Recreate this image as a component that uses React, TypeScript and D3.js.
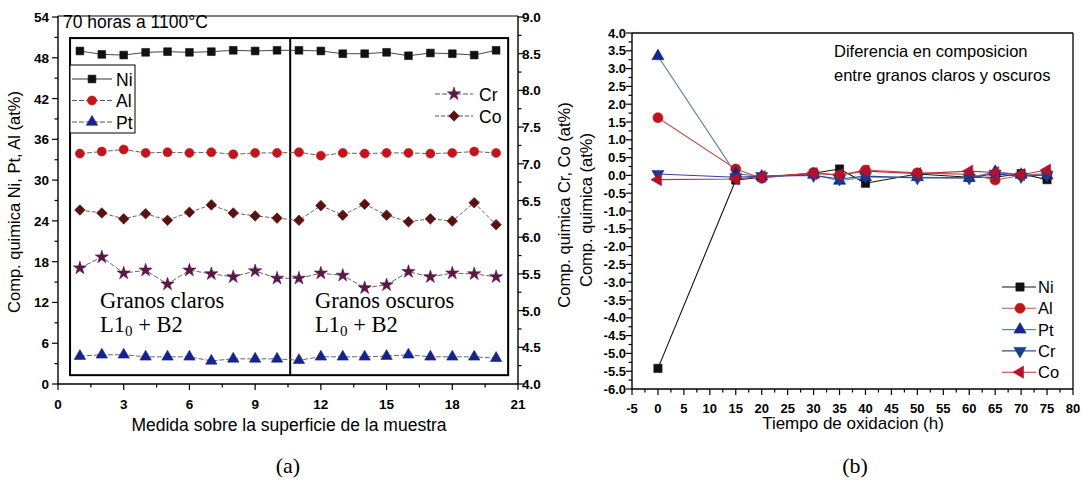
import React from "react";
import * as d3 from "d3";

// ---- Panel (a): composition along the sample surface ----
const positions = [1, 2, 3, 4, 5, 6, 7, 8, 9, 10, 11, 12, 13, 14, 15, 16, 17, 18, 19, 20];
const niA = [49.0, 48.5, 48.4, 48.8, 48.9, 48.8, 48.9, 49.1, 49.0, 49.1, 49.1, 49.0, 48.6, 48.6, 48.8, 48.3, 48.7, 48.6, 48.4, 49.1];
const alA = [33.9, 34.2, 34.5, 34.0, 34.1, 34.0, 34.1, 33.8, 34.0, 34.0, 34.1, 33.6, 34.0, 33.9, 34.0, 34.0, 33.9, 34.0, 34.2, 34.0];
const ptA = [4.1, 4.3, 4.3, 4.0, 4.0, 4.0, 3.4, 3.7, 3.7, 3.7, 3.5, 4.0, 4.0, 4.0, 4.1, 4.3, 4.0, 4.0, 4.0, 3.8];
const crA = [5.58, 5.73, 5.51, 5.55, 5.36, 5.55, 5.5, 5.46, 5.54, 5.44, 5.44, 5.51, 5.48, 5.31, 5.35, 5.53, 5.46, 5.51, 5.5, 5.46];
const coA = [6.37, 6.33, 6.25, 6.32, 6.23, 6.34, 6.44, 6.33, 6.29, 6.26, 6.23, 6.43, 6.3, 6.45, 6.3, 6.21, 6.25, 6.22, 6.47, 6.17];
const xTicksA = [0, 3, 6, 9, 12, 15, 18, 21];
const yTicksA = [0, 6, 12, 18, 24, 30, 36, 42, 48, 54];
const y2TicksA = [4.0, 4.5, 5.0, 5.5, 6.0, 6.5, 7.0, 7.5, 8.0, 8.5, 9.0];

// ---- Panel (b): difference between light and dark grains over time ----
const times = [0, 15, 20, 30, 35, 40, 50, 60, 65, 70, 75];
const niB = [-5.42, -0.13, -0.05, 0.06, 0.18, -0.22, 0.04, -0.05, -0.05, 0.05, -0.12];
const alB = [1.62, 0.18, -0.08, 0.08, 0.0, 0.15, 0.07, 0.03, -0.13, 0.0, 0.05];
const ptB = [3.35, 0.05, -0.03, 0.02, -0.15, -0.05, -0.05, -0.07, 0.1, 0.02, 0.0];
const crB = [0.04, -0.05, -0.02, 0.0, -0.1, -0.02, -0.07, -0.07, 0.05, -0.03, 0.02];
const coB = [-0.12, -0.1, -0.03, 0.05, 0.02, 0.12, 0.05, 0.12, 0.08, 0.02, 0.15];
const xTicksB = [-5, 0, 5, 10, 15, 20, 25, 30, 35, 40, 45, 50, 55, 60, 65, 70, 75, 80];
const yTicksB = d3.range(-6, 4.001, 0.5);

const SANS = "'Liberation Sans', Arial, sans-serif";
const SERIF = "'Liberation Serif', 'Times New Roman', serif";

type Shape = "square" | "circle" | "up" | "down" | "left" | "star" | "diamond";

function markerPath(shape: Shape, size: number): string {
  const map: Record<Shape, d3.SymbolType> = {
    square: d3.symbolSquare,
    circle: d3.symbolCircle,
    up: d3.symbolTriangle,
    down: d3.symbolTriangle,
    left: d3.symbolTriangle,
    star: d3.symbolStar,
    diamond: d3.symbolSquare,
  };
  return d3.symbol(map[shape], size)() || "";
}

function rotation(shape: Shape): number {
  if (shape === "down") return 180;
  if (shape === "left") return -90;
  if (shape === "diamond") return 45;
  return 0;
}

function Marker({ x, y, shape, size, fill }: { x: number; y: number; shape: Shape; size: number; fill: string }) {
  return (
    <path
      d={markerPath(shape, size)}
      transform={`translate(${x},${y}) rotate(${rotation(shape)})`}
      fill={fill}
      stroke={fill}
      strokeWidth={0.6}
    />
  );
}

// Panel (a) scales
const xA = d3.scaleLinear().domain([0, 21]).range([58, 518]);
const yA = d3.scaleLinear().domain([0, 54]).range([384, 17]);
const y2A = d3.scaleLinear().domain([4, 9]).range([384, 17]);

// Panel (b) scales
const xB = d3.scaleLinear().domain([-5, 80]).range([632, 1073]);
const yB = d3.scaleLinear().domain([-6, 4]).range([389, 33]);

type SeriesA = { name: string; values: number[]; axis: "left" | "right"; shape: Shape; color: string; size: number; line: string; dash?: string };

const seriesA: SeriesA[] = [
  { name: "Ni", values: niA, axis: "left", shape: "square", color: "#111111", size: 60, line: "#333", dash: undefined },
  { name: "Al", values: alA, axis: "left", shape: "circle", color: "#c4141b", size: 64, line: "#555", dash: "5,2" },
  { name: "Pt", values: ptA, axis: "left", shape: "up", color: "#17238c", size: 56, line: "#555", dash: "5,2" },
  { name: "Cr", values: crA, axis: "right", shape: "star", color: "#5a1848", size: 54, line: "#555", dash: "5,2" },
  { name: "Co", values: coA, axis: "right", shape: "diamond", color: "#5a1210", size: 56, line: "#555", dash: "4,2" },
];

type SeriesB = { name: string; values: number[]; shape: Shape; color: string; line: string; size: number };

const seriesB: SeriesB[] = [
  { name: "Ni", values: niB, shape: "square", color: "#111111", line: "#111111", size: 68 },
  { name: "Al", values: alB, shape: "circle", color: "#c0141c", line: "#b5584a", size: 80 },
  { name: "Pt", values: ptB, shape: "up", color: "#15278a", line: "#5f86b0", size: 64 },
  { name: "Cr", values: crB, shape: "down", color: "#1b3c86", line: "#2b4aa0", size: 64 },
  { name: "Co", values: coB, shape: "left", color: "#b3122a", line: "#c2303f", size: 64 },
];

function PanelA() {
  const minorX = d3.range(0, 21.001, 1.5);
  const minorY = d3.range(0, 54.001, 3);
  const minorY2 = d3.range(4, 9.001, 0.25);
  return (
    <g>
      {/* axes frame */}
      <line x1={xA(0)} x2={xA(21)} y1={yA(0)} y2={yA(0)} stroke="#000" strokeWidth={1.4} />
      <line x1={xA(0)} x2={xA(0)} y1={yA(0)} y2={16} stroke="#000" strokeWidth={1.4} />
      <line x1={xA(21)} x2={xA(21)} y1={yA(0)} y2={16} stroke="#000" strokeWidth={1.4} />
      <line x1={xA(0)} x2={xA(21)} y1={16} y2={16} stroke="#000" strokeWidth={1.2} />

      {minorX.map((t) => (
        <line key={"mx" + t} x1={xA(t)} x2={xA(t)} y1={yA(0)} y2={yA(0) + (t % 3 === 0 ? 6 : 3.5)} stroke="#000" strokeWidth={1.2} />
      ))}
      {minorY.map((t) => (
        <line key={"my" + t} x1={xA(0)} x2={xA(0) - (t % 6 === 0 ? 6 : 3.5)} y1={yA(t)} y2={yA(t)} stroke="#000" strokeWidth={1.2} />
      ))}
      {minorY2.map((t) => (
        <line key={"my2" + t} x1={xA(21)} x2={xA(21) + (Math.abs((t * 2) % 1) < 1e-6 ? 6 : 3.5)} y1={y2A(t)} y2={y2A(t)} stroke="#000" strokeWidth={1.2} />
      ))}

      {xTicksA.map((t) => (
        <text key={"xl" + t} x={xA(t)} y={409} textAnchor="middle" fontFamily={SANS} fontWeight="bold" fontSize={13.5}>{t}</text>
      ))}
      {yTicksA.map((t) => (
        <text key={"yl" + t} x={49} y={yA(t) + 5} textAnchor="end" fontFamily={SANS} fontWeight="bold" fontSize={13.5}>{t}</text>
      ))}
      {y2TicksA.map((t) => (
        <text key={"y2l" + t} x={522} y={y2A(t) + 5} textAnchor="start" fontFamily={SANS} fontWeight="bold" fontSize={13.5}>{t.toFixed(1)}</text>
      ))}

      {/* grain region boxes */}
      <rect x={xA(0.55)} y={yA(50.9)} width={xA(20.55) - xA(0.55)} height={yA(1.3) - yA(50.9)} fill="none" stroke="#000" strokeWidth={2} />
      <line x1={xA(10.6)} x2={xA(10.6)} y1={yA(50.9)} y2={yA(1.3)} stroke="#000" strokeWidth={2} />

      <text x={63} y={28} fontFamily={SANS} fontSize={17.5}>70 horas a 1100°C</text>

      {/* connecting lines and markers */}
      {seriesA.map((s) => {
        const ys = s.axis === "left" ? yA : y2A;
        const line = d3.line<number>().x((_, i) => xA(positions[i])).y((v) => ys(v));
        return (
          <g key={s.name}>
            <path d={line(s.values) || ""} fill="none" stroke={s.line} strokeWidth={0.9} strokeDasharray={s.dash} />
            {s.values.map((v, i) => (
              <Marker key={i} x={xA(positions[i])} y={ys(v)} shape={s.shape} size={s.size} fill={s.color} />
            ))}
          </g>
        );
      })}

      {/* legend Ni / Al / Pt */}
      <rect x={70} y={65} width={65} height={68} fill="#fff" stroke="#000" strokeWidth={1} />
      {seriesA.slice(0, 3).map((s, i) => {
        const ly = 79 + i * 21.5;
        return (
          <g key={"lg" + s.name}>
            <line x1={72} x2={112} y1={ly} y2={ly} stroke={s.line} strokeWidth={1} strokeDasharray={s.dash} />
            <Marker x={92} y={ly} shape={s.shape} size={s.size} fill={s.color} />
            <text x={116} y={ly + 6.5} fontFamily={SANS} fontSize={17.5}>{s.name}</text>
          </g>
        );
      })}
      {/* legend Cr / Co */}
      {seriesA.slice(3).map((s, i) => {
        const ly = 94 + i * 22;
        return (
          <g key={"lg2" + s.name}>
            <line x1={435} x2={473} y1={ly} y2={ly} stroke={s.line} strokeWidth={1} strokeDasharray={s.dash} />
            <Marker x={454} y={ly} shape={s.shape} size={s.size} fill={s.color} />
            <text x={479} y={ly + 6.5} fontFamily={SANS} fontSize={17.5}>{s.name}</text>
          </g>
        );
      })}

      <text x={100} y={308} fontFamily={SERIF} fontSize={22.5}>Granos claros</text>
      <text x={100} y={332} fontFamily={SERIF} fontSize={22.5}>
        L1<tspan fontSize={15} dy={4}>0</tspan><tspan dy={-4}> + B2</tspan>
      </text>
      <text x={315} y={308} fontFamily={SERIF} fontSize={22.5}>Granos oscuros</text>
      <text x={315} y={332} fontFamily={SERIF} fontSize={22.5}>
        L1<tspan fontSize={15} dy={4}>0</tspan><tspan dy={-4}> + B2</tspan>
      </text>

      <text transform={`translate(20,202) rotate(-90)`} textAnchor="middle" fontFamily={SANS} fontSize={16.5}>Comp. quimica Ni, Pt, Al (at%)</text>
      <text transform={`translate(570,205) rotate(-90)`} textAnchor="middle" fontFamily={SANS} fontSize={16.5}>Comp. quimica Cr, Co (at%)</text>
      <text x={289} y={431} textAnchor="middle" fontFamily={SANS} fontSize={17.5}>Medida sobre la superficie de la muestra</text>
      <text x={288} y={473} textAnchor="middle" fontFamily={SERIF} fontSize={22}>(a)</text>
    </g>
  );
}

function PanelB() {
  const minorX = d3.range(-5, 80.001, 2.5);
  const minorY = d3.range(-6, 4.001, 0.25);
  return (
    <g>
      <line x1={xB(-5)} x2={xB(80)} y1={yB(-6)} y2={yB(-6)} stroke="#000" strokeWidth={1.4} />
      <line x1={xB(-5)} x2={xB(-5)} y1={yB(-6)} y2={yB(4)} stroke="#000" strokeWidth={1.4} />
      <line x1={xB(80)} x2={xB(80)} y1={yB(-6)} y2={yB(4)} stroke="#000" strokeWidth={1.3} />
      <line x1={xB(-5)} x2={xB(80)} y1={yB(4)} y2={yB(4)} stroke="#000" strokeWidth={1.3} />

      {minorX.map((t) => (
        <line key={"bx" + t} x1={xB(t)} x2={xB(t)} y1={yB(-6)} y2={yB(-6) + (Math.abs(t % 5) < 1e-6 ? 6 : 3.5)} stroke="#000" strokeWidth={1.2} />
      ))}
      {minorY.map((t) => (
        <line key={"by" + t} x1={xB(-5)} x2={xB(-5) - (Math.abs((t * 2) % 1) < 1e-6 ? 6 : 3.5)} y1={yB(t)} y2={yB(t)} stroke="#000" strokeWidth={1.2} />
      ))}
      {xTicksB.map((t) => (
        <text key={"bxl" + t} x={xB(t)} y={413} textAnchor="middle" fontFamily={SANS} fontWeight="bold" fontSize={13}>{t}</text>
      ))}
      {yTicksB.map((t) => (
        <text key={"byl" + t} x={626} y={yB(t) + 4.5} textAnchor="end" fontFamily={SANS} fontWeight="bold" fontSize={13}>{t.toFixed(1)}</text>
      ))}

      {seriesB.map((s) => {
        const line = d3.line<number>().x((_, i) => xB(times[i])).y((v) => yB(v));
        return (
          <path key={"bl" + s.name} d={line(s.values) || ""} fill="none" stroke={s.line} strokeWidth={1.1} />
        );
      })}
      {seriesB.map((s) => (
        <g key={"bm" + s.name}>
          {s.values.map((v, i) => (
            <Marker key={i} x={xB(times[i])} y={yB(v)} shape={s.shape} size={s.size} fill={s.color} />
          ))}
        </g>
      ))}

      <text x={834} y={57} fontFamily={SANS} fontSize={16.5}>Diferencia en composicion</text>
      <text x={834} y={81} fontFamily={SANS} fontSize={16.5}>entre granos claros y oscuros</text>

      {seriesB.map((s, i) => {
        const ly = 287 + i * 21.3;
        return (
          <g key={"blg" + s.name}>
            <line x1={1002} x2={1036} y1={ly} y2={ly} stroke={s.line} strokeWidth={1.1} />
            <Marker x={1020} y={ly} shape={s.shape} size={s.size} fill={s.color} />
            <text x={1038} y={ly + 6} fontFamily={SANS} fontSize={16.5}>{s.name}</text>
          </g>
        );
      })}

      <text transform={`translate(592,210) rotate(-90)`} textAnchor="middle" fontFamily={SANS} fontSize={16.5}>Comp. quimica (at%)</text>
      <text x={853} y={429} textAnchor="middle" fontFamily={SANS} fontSize={17}>Tiempo de oxidacion (h)</text>
      <text x={855} y={473} textAnchor="middle" fontFamily={SERIF} fontSize={22}>(b)</text>
    </g>
  );
}

export default function App() {
  return (
    <svg
      width={1081}
      height={480}
      viewBox="0 0 1081 480"
      style={{ position: "absolute", left: 0, top: 0, display: "block", background: "#fff" }}
    >
      <rect width={1081} height={480} fill="#fff" />
      <PanelA />
      <PanelB />
    </svg>
  );
}
